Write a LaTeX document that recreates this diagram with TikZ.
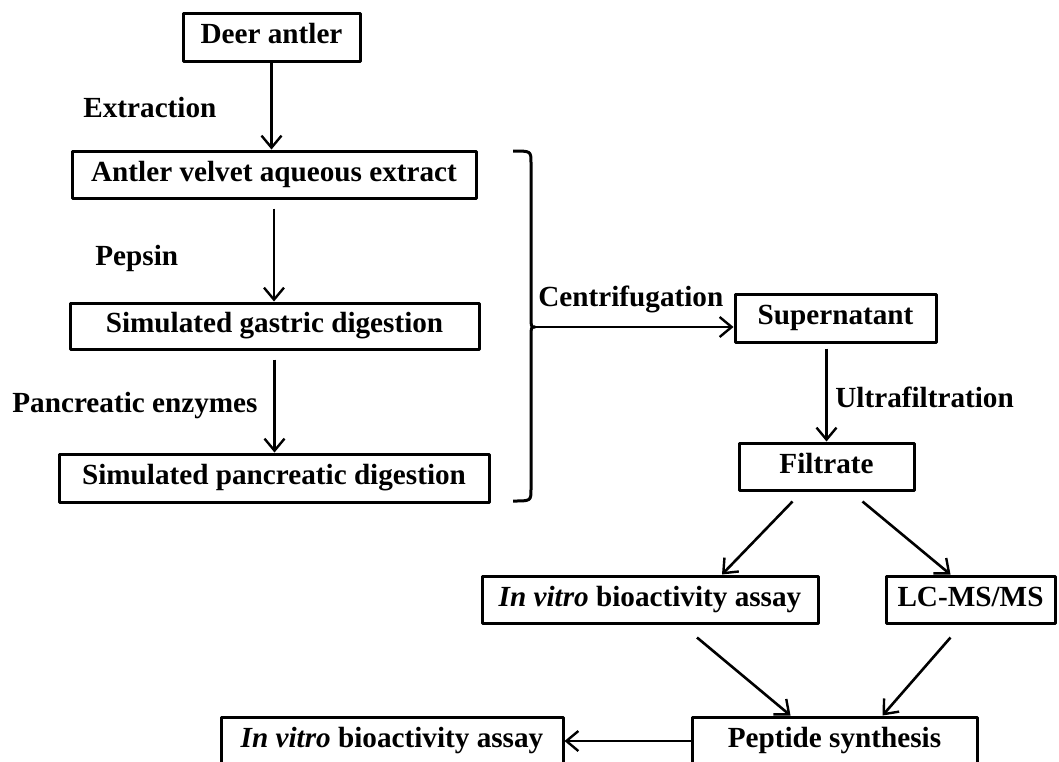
\documentclass[tikz,border=0pt]{standalone}
\usepackage{fontspec}
\setmainfont{Liberation Serif}
\usetikzlibrary{arrows.meta}

\begin{document}
\begin{tikzpicture}[x=.5pt,y=-.5pt,>={Straight Barb[length=6pt,width=10pt,line width=1.2pt]},line join=round,
	font=\fontsize{14.6}{17}\selectfont\bfseries,
	box/.style={draw,line width=1.5pt,inner sep=0pt,text height=.66em,text depth=0pt},
	lab/.style={anchor=base west,inner sep=0pt},
	arr/.style={->,line width=1.3pt}]
	\clip (0,0) rectangle (1059,761);
	% left column
	\node[box,minimum width=88.5pt,minimum height=24pt] (deer) at (271.5,37) {Deer antler};
	\node[box,minimum width=202pt,minimum height=23.5pt] (velvet) at (274,174.5) {Antler velvet aqueous extract};
	\node[box,minimum width=204.5pt,minimum height=23pt] (gastric) at (274.5,326) {Simulated gastric digestion};
	\node[box,minimum width=215pt,minimum height=24pt] (pancr) at (274,478) {Simulated pancreatic digestion};
	\node[lab] (extr) at (83,117) {Extraction};
	\node[lab] (peps) at (95,265) {Pepsin};
	\node[lab] (enz) at (12,412) {Pancreatic enzymes};
	\draw[arr] (deer.south) -- (deer.south |- velvet.north);
	\draw[arr] ([yshift=-4.5pt]velvet.south) -- (velvet.south |- gastric.north);
	\draw[arr] ([yshift=-4.5pt]gastric.south) -- (gastric.south |- pancr.north);
	% brace
	\coordinate (brtop) at (513,151);
	\coordinate (brbot) at (513,501);
	\coordinate (brtip) at (535,327);
	\draw[line width=1.5pt] (brtop) .. controls (531,151) .. (531,163) -- (531,316)
		.. controls (531,327) .. (brtip) .. controls (531,327) .. (531,338) -- (531,489)
		.. controls (531,501) .. (brbot);
	% right column
	\node[box,minimum width=100.5pt,minimum height=24pt] (super) at (835.5,318) {Supernatant};
	\node[box,minimum width=87.5pt,minimum height=23.5pt] (filtrate) at (826.5,466.5) {Filtrate};
	\node[box,minimum width=168pt,minimum height=23.5pt] (assay) at (650,599.5) {\textit{In vitro} bioactivity assay};
	\node[box,minimum width=84.5pt,minimum height=23.5pt] (lcms) at (970.5,599.5) {LC-MS/MS};
	\node[box,minimum width=142.5pt,minimum height=24pt] (pept) at (834.5,741) {Peptide synthesis};
	\node[box,minimum width=171pt,minimum height=24pt] (assaytwo) at (392,741) {\textit{In vitro} bioactivity assay};
	\node[lab] (centr) at (538,306) {Centrifugation};
	\node[lab] (ultra) at (835,407) {Ultrafiltration};
	\draw[arr] (brtip) -- (brtip -| super.west);
	\draw[arr] ([yshift=-2.5pt]filtrate.north |- super.south) -- (filtrate.north);
	\draw[arr] ([xshift=-17pt,yshift=-5pt]filtrate.south) -- ([xshift=36pt]assay.north);
	\draw[arr] ([xshift=18pt,yshift=-5pt]filtrate.south) -- ([xshift=-10pt]lcms.north);
	\draw[arr] ([xshift=23.5pt,yshift=-6.5pt]assay.south) -- ([xshift=-22pt]pept.north);
	\draw[arr] ([xshift=-10pt,yshift=-6.5pt]lcms.south) -- ([xshift=24pt]pept.north);
	\draw[arr] (pept.west) -- (assaytwo.east);
\end{tikzpicture}
\end{document}
